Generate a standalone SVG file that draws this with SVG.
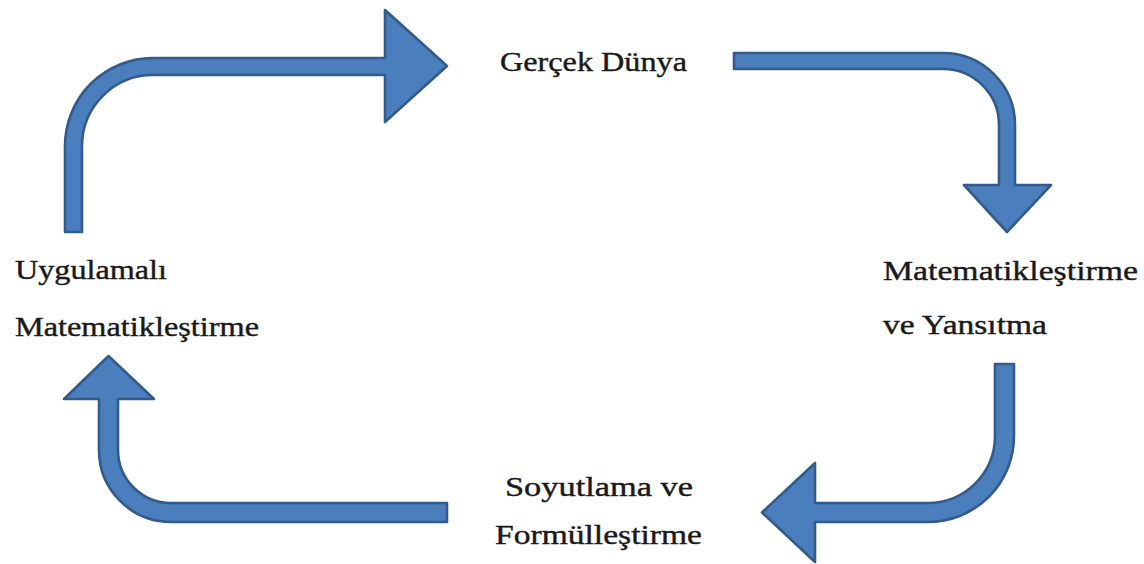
<svg xmlns="http://www.w3.org/2000/svg" width="1144" height="564" viewBox="0 0 1144 564">
<style>
.arrow{fill:#4A7EBD;stroke:#325B8B;stroke-width:2.6;stroke-linejoin:round}
.lbl{font-family:"Liberation Serif","Times New Roman",serif;font-size:27px;fill:#1a1a1a;stroke:#1a1a1a;stroke-width:0.4}
</style>
<rect width="1144" height="564" fill="#ffffff"/>
<g id="connectors">
<path id="arrow-top" class="arrow" d="M65,232 L65,146 A88,88 0 0 1 153,58 L385,58 L385,10 L447,66 L385,122 L385,75 L153,75 A71,71 0 0 0 82,146 L82,232 Z"/>
<path id="arrow-right" class="arrow" d="M734,53 L943,53 A72,72 0 0 1 1015,125 L1015,185 L1051,185 L1007,232 L964,185 L999,185 L999,125 A56,56 0 0 0 943,69 L734,69 Z"/>
<path id="arrow-bottom" class="arrow" d="M995,364 L1014,364 L1014,436 A86,86 0 0 1 928,522 L815,522 L815,562 L762,512.5 L815,463 L815,503 L928,503 A67,67 0 0 0 995,436 Z"/>
<path id="arrow-left" class="arrow" d="M447,503 L447,522 L171,522 A72,72 0 0 1 99,450 L99,399 L64,399 L108.5,356 L154,399 L118,399 L118,450 A53,53 0 0 0 171,503 Z"/>
</g>
<g id="node-gercek-dunya">
<text class="lbl" x="500" y="71" textLength="187" lengthAdjust="spacingAndGlyphs">Gerçek Dünya</text>
</g>
<g id="node-matematiklestirme-yansitma">
<text class="lbl" x="883" y="280" textLength="255" lengthAdjust="spacingAndGlyphs">Matematikleştirme</text>
<text class="lbl" x="883" y="334" textLength="164" lengthAdjust="spacingAndGlyphs">ve Yansıtma</text>
</g>
<g id="node-soyutlama-formullestirme">
<text class="lbl" x="505" y="496" textLength="188" lengthAdjust="spacingAndGlyphs">Soyutlama ve</text>
<text class="lbl" x="495" y="544" textLength="207" lengthAdjust="spacingAndGlyphs">Formülleştirme</text>
</g>
<g id="node-uygulamali-matematiklestirme">
<text class="lbl" x="15" y="279" textLength="152" lengthAdjust="spacingAndGlyphs">Uygulamalı</text>
<text class="lbl" x="15" y="336" textLength="244" lengthAdjust="spacingAndGlyphs">Matematikleştirme</text>
</g>
</svg>
